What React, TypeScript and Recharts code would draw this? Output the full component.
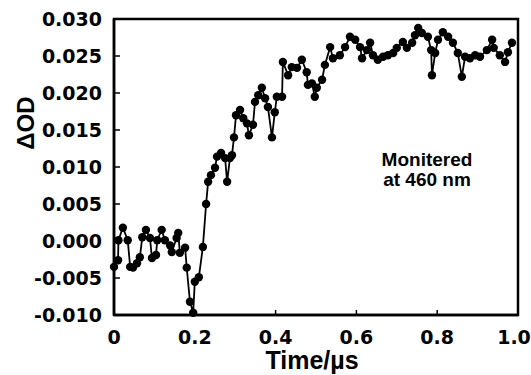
import { LineChart, Line, XAxis, YAxis, ReferenceArea } from "recharts";

// time in microseconds
const timeUs = [
  0.0, 0.01, 0.011, 0.022, 0.034, 0.04, 0.047, 0.057, 0.064, 0.07,
  0.079, 0.089, 0.094, 0.104, 0.107, 0.118, 0.126, 0.139, 0.143, 0.155,
  0.159, 0.163, 0.176, 0.18, 0.188, 0.196, 0.2, 0.21, 0.22, 0.228,
  0.233, 0.24, 0.25, 0.255, 0.265, 0.275, 0.28, 0.287, 0.292, 0.297,
  0.302, 0.312, 0.32, 0.329, 0.334, 0.344, 0.349, 0.357, 0.366, 0.374,
  0.381, 0.391, 0.398, 0.403, 0.416, 0.418, 0.431, 0.44, 0.453, 0.465,
  0.477, 0.48, 0.49, 0.497, 0.502, 0.515, 0.522, 0.535, 0.542, 0.559,
  0.572, 0.584, 0.597, 0.609, 0.614, 0.626, 0.634, 0.641, 0.653, 0.666,
  0.678, 0.691, 0.7, 0.715, 0.725, 0.738, 0.745, 0.753, 0.762, 0.777,
  0.785, 0.787, 0.795, 0.802, 0.814, 0.827, 0.839, 0.851, 0.861, 0.869,
  0.881, 0.894, 0.906, 0.923, 0.936, 0.94, 0.955, 0.968, 0.975, 0.985,
];

const deltaOD = [
  -0.0035, -0.0026, 0.0001, 0.0018, 0.0001, -0.0035, -0.0036, -0.003, -0.0022, 0.0005,
  0.0015, 0.0004, -0.0023, -0.0019, 0.0001, 0.0015, 0.0001, -0.0006, -0.0015, 0.0004,
  0.0011, -0.0016, -0.0009, -0.0036, -0.0082, -0.0097, -0.0055, -0.0049, -0.0008, 0.005,
  0.008, 0.0089, 0.0099, 0.0114, 0.0119, 0.0112, 0.008, 0.0112, 0.0116, 0.014,
  0.017, 0.0177, 0.0166, 0.0159, 0.0143, 0.0157, 0.0188, 0.0197, 0.0207, 0.0193,
  0.0181, 0.014, 0.0174, 0.0195, 0.0195, 0.0242, 0.0224, 0.0235, 0.0234, 0.0245,
  0.0228, 0.0211, 0.0213, 0.0195, 0.0207, 0.0218, 0.0238, 0.0262, 0.0247, 0.0251,
  0.0262, 0.0276, 0.0272, 0.0262, 0.0247, 0.0258, 0.0268, 0.0251, 0.0245, 0.0249,
  0.0251, 0.0254, 0.0261, 0.0269, 0.0261, 0.0268, 0.0278, 0.0288, 0.0281, 0.0276,
  0.0258, 0.0224, 0.0254, 0.0272, 0.0282, 0.0276, 0.0268, 0.0254, 0.0222, 0.0249,
  0.0247, 0.0251, 0.0249, 0.0258, 0.0272, 0.0261, 0.0251, 0.0242, 0.0255, 0.0268,
];

const xTicks = [0, 0.2, 0.4, 0.6, 0.8, 1.0];
const yTicks = [-0.01, -0.005, 0, 0.005, 0.01, 0.015, 0.02, 0.025, 0.03];

const data = timeUs.map((t, i) => ({ t, od: deltaOD[i] }));

const font = "'Liberation Sans', Arial, sans-serif";
const tickFont = "'DejaVu Sans', sans-serif";
const tickStyle = { fontSize: 19, fontWeight: 700, fill: "#000", fontFamily: tickFont };

// x tick labels; the last one is nudged left so it stays inside the page
function XTick(props: any) {
  const { x, y, payload } = props;
  const v = payload.value as number;
  const label = v === 0 ? "0" : v.toFixed(1);
  return (
    <text x={x} y={y} dx={v === 1 ? -4 : 0} dy="0.71em" textAnchor="middle" fontSize={19} fontWeight={700} fontFamily={tickFont} fill="#000">
      {label}
    </text>
  );
}

export default function App() {
  return (
    <div style={{ position: "absolute", left: 0, top: 0, width: 531, height: 375, background: "#fff", fontFamily: font }}>
      <LineChart width={531} height={375} data={data} margin={{ top: 19, right: 13, bottom: 0, left: 0 }}>
        <XAxis
          type="number"
          dataKey="t"
          domain={[0, 1]}
          ticks={xTicks}
          height={60}
          tickSize={-5}
          tickMargin={21}
          tick={<XTick />}
          axisLine={{ stroke: "#000", strokeWidth: 2.5 }}
          tickLine={{ stroke: "#000", strokeWidth: 1.5 }}
        />
        <YAxis
          type="number"
          domain={[-0.01, 0.03]}
          ticks={yTicks}
          tickFormatter={(v: number) => v.toFixed(3)}
          width={114}
          tickSize={-6}
          tickMargin={18}
          tick={tickStyle}
          axisLine={{ stroke: "#000", strokeWidth: 2.5 }}
          tickLine={{ stroke: "#000", strokeWidth: 1.5 }}
        />
        {/* plot frame */}
        <ReferenceArea x1={0} x2={1} y1={-0.01} y2={0.03} fill="none" stroke="#000" strokeWidth={2.5} />
        <Line
          type="linear"
          dataKey="od"
          stroke="#000"
          strokeWidth={1.8}
          dot={{ r: 4.2, fill: "#000", stroke: "none" }}
          activeDot={false}
          isAnimationActive={false}
        />
      </LineChart>
      <div style={{ position: "absolute", left: 262, top: 350, width: 100, textAlign: "center", fontSize: 25, fontWeight: 700, lineHeight: "20px" }}>
        Time/µs
      </div>
      <div style={{ position: "absolute", left: 26, top: 123, transform: "translate(-50%, -50%) rotate(-90deg)", fontSize: 24, fontWeight: 700, whiteSpace: "nowrap", lineHeight: "24px" }}>
        ΔOD
      </div>
      <div style={{ position: "absolute", left: 367, top: 150, width: 120, textAlign: "center", fontSize: 19, fontWeight: 700, lineHeight: "19.5px" }}>
        Monitered
        <br />
        at 460 nm
      </div>
    </div>
  );
}
